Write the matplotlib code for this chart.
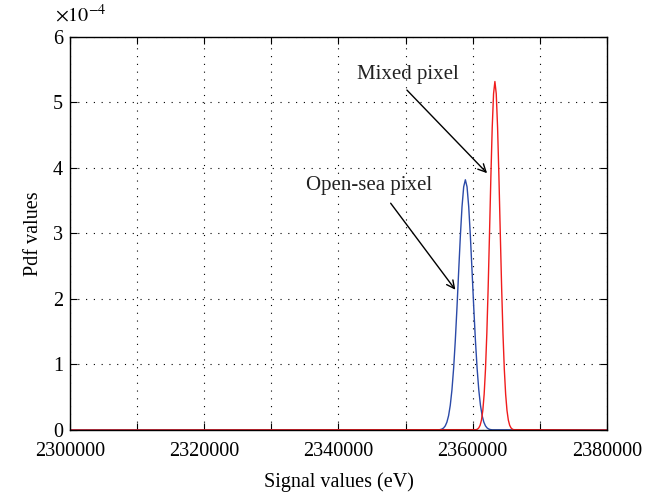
import matplotlib
matplotlib.use("Agg")
import matplotlib.pyplot as plt
import numpy as np

plt.rcParams['font.family'] = ['Liberation Serif', 'DejaVu Serif']
plt.rcParams['mathtext.fontset'] = 'stix'

# Open-sea pixel pdf (blue), values in units of 1e-4
x_blue = [2300000,
          2354900, 2355150, 2355400, 2355650, 2355900, 2356150, 2356400, 2356650,
          2356900, 2357150, 2357400, 2357650, 2357900, 2358150, 2358400, 2358650,
          2358900, 2359150, 2359400, 2359650, 2359900, 2360150, 2360400, 2360650,
          2360900, 2361150, 2361400, 2361650, 2361900, 2362150, 2362400, 2362650,
          2362900,
          2380000]
pdf_blue_e4 = [0.0,
               0.003, 0.006, 0.014, 0.030, 0.062, 0.120, 0.218, 0.376,
               0.611, 0.940, 1.364, 1.868, 2.417, 2.952, 3.407, 3.712,
               3.82, 3.712, 3.407, 2.952, 2.417, 1.868, 1.364, 0.940,
               0.611, 0.376, 0.218, 0.120, 0.062, 0.030, 0.014, 0.006,
               0.003,
               0.0]

# Mixed pixel pdf (red), values in units of 1e-4
x_red = [2300000,
         2360500, 2360700, 2360900, 2361100, 2361300, 2361500, 2361700, 2361900,
         2362100, 2362300, 2362500, 2362700, 2362900, 2363100, 2363300, 2363500,
         2363700, 2363900, 2364100, 2364300, 2364500, 2364700, 2364900, 2365100,
         2365300, 2365500, 2365700, 2365900, 2366100,
         2380000]
pdf_red_e4 = [0.0,
              0.005, 0.013, 0.032, 0.072, 0.152, 0.299, 0.547, 0.932,
              1.479, 2.187, 3.011, 3.863, 4.615, 5.134, 5.32, 5.134,
              4.615, 3.863, 3.011, 2.187, 1.479, 0.932, 0.547, 0.299,
              0.152, 0.072, 0.032, 0.013, 0.005,
              0.0]

x_ticks = [2300000, 2320000, 2340000, 2360000, 2380000]
x_minor = [2310000, 2330000, 2350000, 2370000]
y_ticks = [0, 1, 2, 3, 4, 5, 6]
y_ticklabels = ['0', '1', '2', '3', '4', '5', '6']
scale = 1e-4

fig = plt.figure(figsize=(6.61, 4.93), dpi=100)
ax = fig.add_axes([0.1059, 0.1278, 0.8124, 0.7972])

ax.plot(x_blue, np.array(pdf_blue_e4) * scale, color='#2b4aa8', lw=1.0)
ax.plot(x_red, np.array(pdf_red_e4) * scale, color='#f01c1c', lw=1.0)

ax.set_xlim(2300000, 2380000)
ax.set_ylim(0, 6 * scale)
ax.set_xticks(x_ticks)
ax.set_xticklabels([str(v) for v in x_ticks])
ax.set_xticks(x_minor, minor=True)
ax.set_yticks([v * scale for v in y_ticks])
ax.set_yticklabels(y_ticklabels)

ax.grid(True, which='both', axis='x', color='black', linestyle=(0, (1, 6)), linewidth=0.8)
ax.grid(True, which='major', axis='y', color='black', linestyle=(0, (1, 6)), linewidth=0.8)

ax.tick_params(which='both', direction='in', top=True, right=True, labelsize=14.5, length=5, width=0.8)
ax.tick_params(axis='x', pad=8.5)
ax.tick_params(axis='y', pad=5)
for s in ax.spines.values():
    s.set_linewidth(1.0)

fig.text(55 / 661, 1 - 22 / 493, r'$\times 10^{-4}$', fontsize=14.5, ha='left', va='baseline')

ax.set_xlabel('Signal values (eV)', fontsize=14.5, labelpad=8)
ax.set_ylabel('Pdf values', fontsize=14.5, labelpad=7)

ax.annotate('', xy=(2362421, 3.89e-4), xytext=(2349907, 5.22e-4),
            arrowprops=dict(arrowstyle='->', color='black', lw=1.0, mutation_scale=14))
ax.text(2350354, 5.42e-4, 'Mixed pixel', fontsize=15, ha='center', va='center', color='#222222')

ax.annotate('', xy=(2357654, 2.107e-4), xytext=(2347523, 3.496e-4),
            arrowprops=dict(arrowstyle='->', color='black', lw=1.0, mutation_scale=14))
ax.text(2344544, 3.725e-4, 'Open-sea pixel', fontsize=15, ha='center', va='center', color='#222222')

fig.savefig('out.png', dpi=100)
